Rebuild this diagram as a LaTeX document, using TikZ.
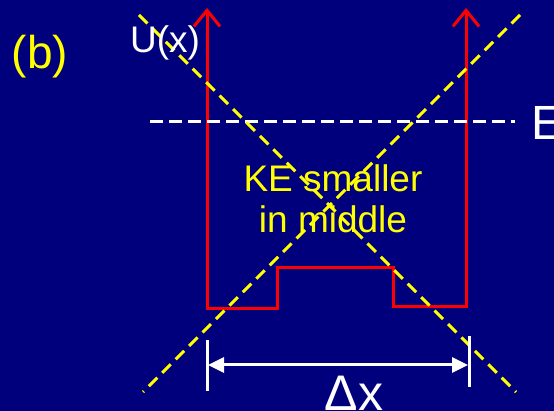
\documentclass[tikz,border=0pt]{standalone}
\usepackage{fontspec}
\setmainfont{Liberation Sans}
\usetikzlibrary{arrows.meta, positioning}
\definecolor{navy}{RGB}{0,0,125}
\definecolor{ylw}{RGB}{255,255,0}
\tikzset{
  wall/.style={red, line width=3pt, line join=miter},
  cross/.style={ylw, line width=3pt, dash pattern=on 12pt off 7pt},
  eline/.style={white, line width=3pt, dash pattern=on 13pt off 6pt},
  tick/.style={white, line width=3pt},
  big/.style={inner sep=0pt, font=\fontsize{36}{40}\selectfont}}

\begin{document}
\begin{tikzpicture}[x=1pt, y=-1pt]
\fill[navy] (0,0) rectangle (554,411);
\useasboundingbox (0,0) rectangle (554,411);
% well
\coordinate (tl) at (207,8);
\coordinate (bl) at (207,309);
\coordinate (sl) at (277,309);
\coordinate (ul) at (277,268);
\coordinate (ur) at (393,268);
\coordinate (sr) at (393,307);
\coordinate (br) at (466,307);
\coordinate (tr) at (466,8);
\draw[wall, {Straight Barb[length=16pt,width=26pt]}-{Straight Barb[length=16pt,width=26pt]}]
  (tl) -- (bl) -- (sl) -- (ul) -- (ur) -- (sr) -- (br) -- (tr);
% energy level
\coordinate (e0) at (150,122);
\coordinate (e1) at (515,122);
\draw[eline] (e0) -- (e1);
\node[big, white, anchor=base west, font=\fontsize{48}{52}\selectfont] (E) at (531,140) {E};
% crossed out
\coordinate (a0) at (139,15);
\coordinate (a1) at (516,392);
\coordinate (b0) at (520,15);
\coordinate (b1) at (143,392);
\draw[cross] (a0) -- (a1);
\draw[cross] (b0) -- (b1);
% labels
\node[big, ylw, font=\fontsize{46}{50}\selectfont] (lb) at (40,57) {(b)};
\node[big, white, font=\fontsize{37}{40}\selectfont] (U) at (165,43) {U(x)};
\node[big, ylw, align=center, font=\fontsize{37}{41}\selectfont] (ke) at (333,199) {KE smaller\\in middle};
% width
\coordinate (d0) at (207,340);
\coordinate (d1) at (207,391);
\coordinate (d2) at (469,336);
\coordinate (d3) at (469,387);
\draw[tick] (d0) -- (d1);
\draw[tick] (d2) -- (d3);
\coordinate (w0) at (208,365);
\coordinate (w1) at (468,365);
\draw[tick, {Triangle[length=16pt,width=15pt]}-{Triangle[length=16pt,width=15pt]}] (w0) -- (w1);
\node[big, white, anchor=base, font=\fontsize{50}{54}\selectfont] (dx) at (354,410) {Δx};
\end{tikzpicture}
\end{document}
